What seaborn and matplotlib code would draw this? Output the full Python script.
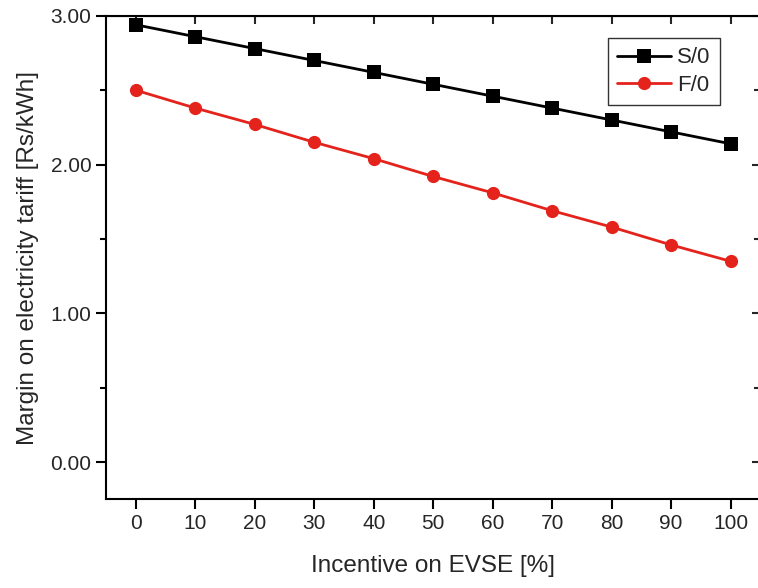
import matplotlib
matplotlib.use("Agg")
import matplotlib.pyplot as plt
from matplotlib.ticker import MultipleLocator
import seaborn as sns
import pandas as pd

incentive = [0, 10, 20, 30, 40, 50, 60, 70, 80, 90, 100]
s0 = [2.94, 2.86, 2.78, 2.70, 2.62, 2.54, 2.46, 2.38, 2.30, 2.22, 2.14]
f0 = [2.50, 2.38, 2.27, 2.15, 2.04, 1.92, 1.81, 1.69, 1.58, 1.46, 1.35]
series_names = ["S/0", "F/0"]
yticks = [0.0, 1.0, 2.0, 3.0]

df = pd.DataFrame({
    "x": incentive * 2,
    "y": s0 + f0,
    "series": [series_names[0]] * len(incentive) + [series_names[1]] * len(incentive),
})

sns.set_style("ticks")
plt.rcParams["font.family"] = ["Liberation Sans", "DejaVu Sans"]

fig = plt.figure(figsize=(7.58, 5.88), dpi=100)
ax = fig.add_axes([0.140, 0.151, 0.863, 0.822])

sns.lineplot(data=df, x="x", y="y", hue="series", style="series",
             palette={"S/0": "black", "F/0": "#e3231c"},
             markers={"S/0": "s", "F/0": "o"}, dashes=False,
             markersize=9.5, markeredgewidth=0, linewidth=2, ax=ax)

ax.set_xlim(-5, 105)
ax.set_ylim(-0.25, 3.0)
ax.set_xticks(incentive)
ax.set_yticks(yticks)
ax.set_yticklabels([f"{v:.2f}" for v in yticks])
ax.yaxis.set_minor_locator(MultipleLocator(0.5))
ax.tick_params(axis="both", which="major", labelsize=15, width=1.5, length=7,
               color="black", direction="out")
ax.tick_params(axis="y", which="minor", width=1.5, length=4, color="black",
               direction="out")
for sp in ax.spines.values():
    sp.set_visible(True)
    sp.set_linewidth(1.5)
    sp.set_color("black")

# mirrored inward ticks on top and right
top = ax.secondary_xaxis("top")
top.set_xticks(incentive)
top.tick_params(axis="x", direction="in", length=6, width=1.5, labeltop=False)
right = ax.secondary_yaxis("right")
right.set_yticks(yticks)
right.yaxis.set_minor_locator(MultipleLocator(0.5))
right.tick_params(axis="y", which="major", direction="in", length=6, width=1.5, labelright=False)
right.tick_params(axis="y", which="minor", direction="in", length=4, width=1.5)

ax.set_xlabel("Incentive on EVSE [%]", fontsize=17.5, labelpad=16)
ax.set_ylabel("Margin on electricity tariff [Rs/kWh]", fontsize=17.5, labelpad=8)

leg = ax.legend(loc="upper right", bbox_to_anchor=(0.948, 0.967), fontsize=16,
                frameon=True, fancybox=False, edgecolor="black",
                handlelength=2.4, borderpad=0.4, labelspacing=0.3,
                handletextpad=0.3, borderaxespad=0.3)
leg.get_frame().set_linewidth(1.0)

fig.savefig("out.png", dpi=100)
